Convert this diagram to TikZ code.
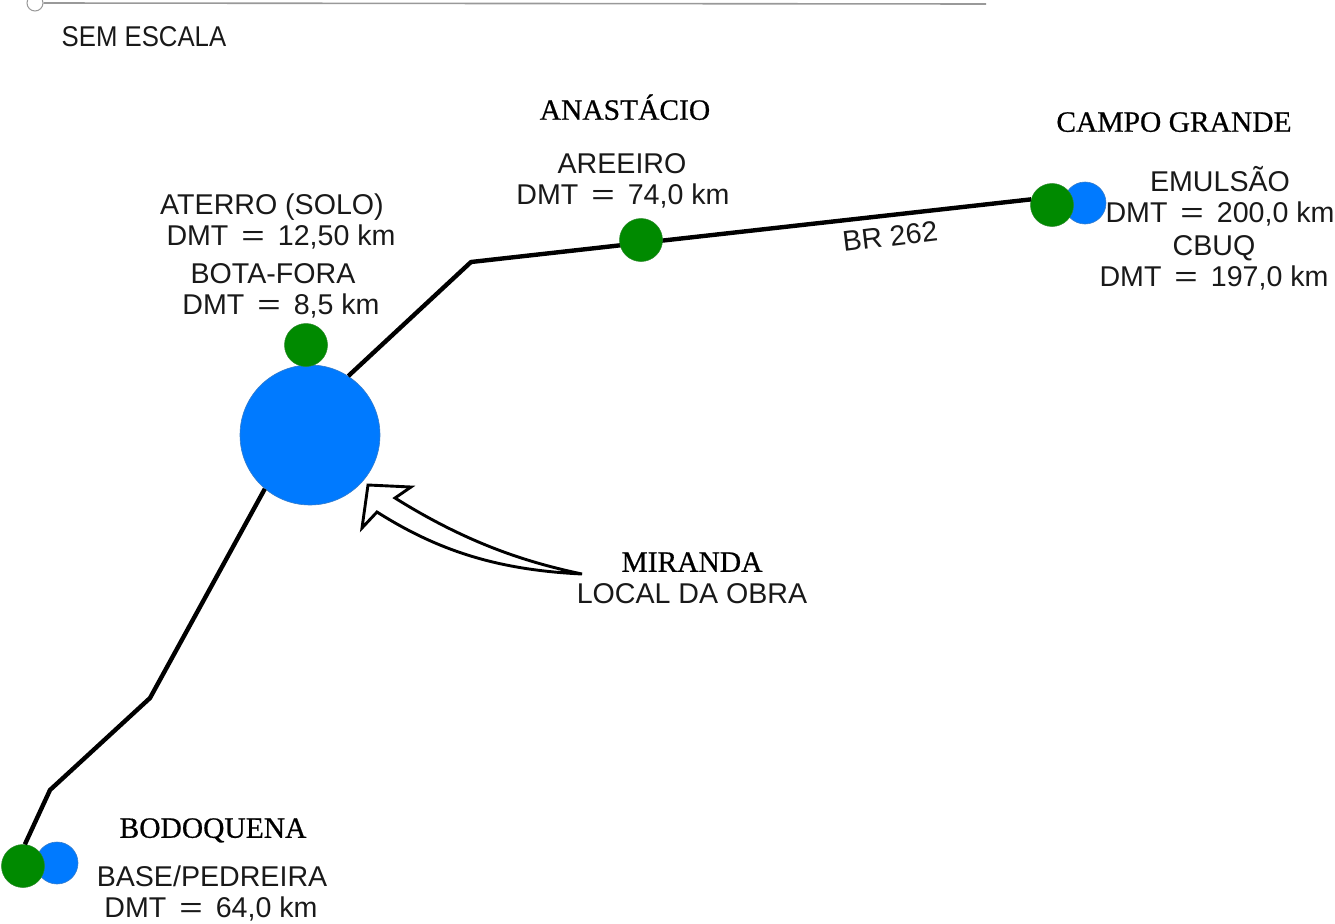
\documentclass[tikz,border=0pt]{standalone}
\usepackage{fontspec}
\setmainfont{Liberation Sans}
\newfontfamily\serifcity[FakeBold=0.6]{Liberation Serif}
\newcommand{\eqs}{\hspace{13pt}\scalebox{1.4}[1]{=}\hspace{13pt}}
\begin{document}
\begin{tikzpicture}[x=1pt,y=-1pt,
  road/.style={line width=4.4pt,black,line join=round},
  gdot/.style={circle,fill=gdotc,draw=gdotc!70!gray,line width=.5pt,inner sep=0pt,minimum size=#1},
  bdot/.style={circle,fill=bdotc,draw=bdotc!60!gray,line width=.6pt,inner sep=0pt,minimum size=#1},
  lab/.style={font=\fontsize{28.6}{33}\selectfont,inner sep=0pt,anchor=center,text=black!90,text height=20.5pt,text depth=0pt},
  city/.style={font=\fontsize{29.5}{35}\selectfont\serifcity,inner sep=0pt,anchor=center,text=black,text height=19.5pt,text depth=0pt}]
\definecolor{gdotc}{RGB}{0,138,0}
\definecolor{bdotc}{RGB}{0,122,255}
\useasboundingbox (0,0) rectangle (1335,923);
% slider
\node[circle,draw=gray!80,fill=white,line width=1pt,minimum size=16pt,inner sep=0pt] (sl) at (35,3) {};
\coordinate (slend) at (986,4);
\draw[gray!80,line width=1.6pt] (sl) -- (slend);
\node[lab,xscale=.9] (sem) at (144,36) {SEM ESCALA};
% route
\coordinate (r1) at (50,790);
\coordinate (r2) at (150,698);
\coordinate (r3) at (471,262);
\node[bdot=140pt] (mir) at (310,435) {};
\node[bdot=42pt] (bb) at (57,863) {};
\node[bdot=42pt] (bc) at (1085,203) {};
\node[gdot=43pt] (gb) at (23,866) {};
\node[gdot=43pt] (gc) at (1052,205) {};
\node[gdot=43pt] (gf) at (306,345) {};
\draw[road] (gb.85) -- (r1) -- (r2) -- (mir.230);
\draw[road] (mir.57) -- (r3) -- (gc.165);
\node[gdot=43pt] (ga) at (641,240) {};
% cities
\node[city] (ana) at (625,110) {ANASTÁCIO};
\node[city] (cg) at (1174,122) {CAMPO GRANDE};
\node[city] (mi) at (692,562) {MIRANDA};
\node[city] (bo) at (213,828) {BODOQUENA};
% labels
\node[lab] (l1) at (622,163) {AREEIRO};
\node[lab] (l2) at (623,194) {DMT\eqs 74,0 km};
\node[lab] (l3) at (272,204) {ATERRO (SOLO)};
\node[lab] (l4) at (281,235) {DMT\eqs 12,50 km};
\node[lab] (l5) at (273,273) {BOTA-FORA};
\node[lab] (l6) at (281,304) {DMT\eqs 8,5 km};
\node[lab] (l7) at (1220,181) {EMULSÃO};
\node[lab] (l8) at (1220,212) {DMT\eqs 200,0 km};
\node[lab] (l9) at (1214,245) {CBUQ};
\node[lab] (l10) at (1214,276) {DMT\eqs 197,0 km};
\node[lab] (l11) at (692,593) {LOCAL DA OBRA};
\node[lab] (l12) at (212,876) {BASE/PEDREIRA};
\node[lab] (l13) at (211,907) {DMT\eqs 64,0 km};
\node[lab,rotate=7] (br) at (890,236) {BR 262};
% arrow
\coordinate (tail) at (582,574);
\draw[black,line width=2.9pt,line join=miter,fill=white]
  (tail) .. controls (530,563) and (470,545) .. (395,498)
  -- (411,487) -- (368,485) -- (362,528) -- (377,512)
  .. controls (440,552) and (500,570) .. (tail) -- cycle;
\end{tikzpicture}
\end{document}
